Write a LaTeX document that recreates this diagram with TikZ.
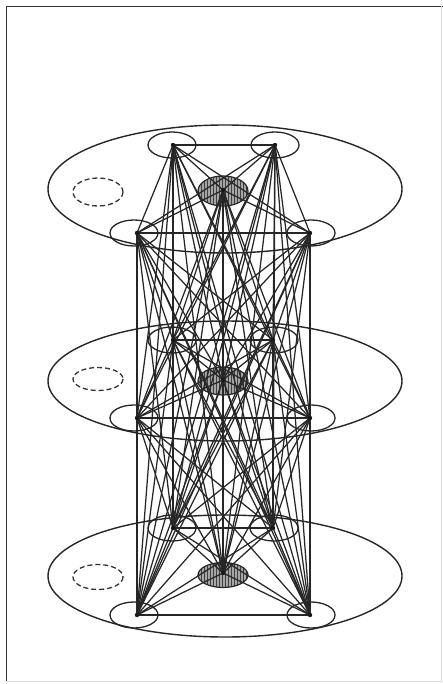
\documentclass[tikz,border=0pt]{standalone}
\usetikzlibrary{patterns}
\begin{document}
\begin{tikzpicture}[x=1pt,y=-1pt,
  mesh/.style={draw=black!85,line width=1.25pt},
  outer/.style={draw=black!85,line width=1.4pt},
  small/.style={draw=black!85,line width=1.3pt},
  dashring/.style={draw=black!80,line width=1.3pt,dash pattern=on 5pt off 3pt},
  hatchfill/.style={fill=black!35},
  hatch/.style={draw=black!85,line width=1.2pt,pattern=vertical lines,pattern color=black!75}]
\useasboundingbox (0,0) rectangle (443,684);
% frame
\draw[black!80,line width=1.6pt] (6.5,681) -- (6.5,6.5) -- (443,6.5);
\draw[black!15,line width=0.8pt] (441,6.5) -- (441,681) -- (6.5,681);
% layer data: big ellipse, dashed ring, hatched centre
\foreach \cy/\ry/\dy/\dry/\hy/\hry in {189/64/192/14/191/15, 381/60/379/11.5/381/14, 576/61/577/12.5/575/12.5}{
  \draw[outer] (225,\cy) ellipse [x radius=177, y radius=\ry];
  \draw[dashring] (98,\dy) ellipse [x radius=25, y radius=\dry];
  \fill[hatchfill] (223,\hy) ellipse [x radius=25, y radius=\hry];
  \draw[hatch] (223,\hy) ellipse [x radius=25, y radius=\hry];
}
% vertex coordinates
\coordinate (n1) at (173,145); \coordinate (n2) at (275,145);
\coordinate (n3) at (137,233); \coordinate (n4) at (310,233);
\coordinate (n5) at (223,190);
\coordinate (n6) at (173,340); \coordinate (n7) at (273,340);
\coordinate (n8) at (137,418); \coordinate (n9) at (310,418);
\coordinate (n10) at (223,380);
\coordinate (n11) at (173,528); \coordinate (n12) at (273,528);
\coordinate (n13) at (137,615); \coordinate (n14) at (310,615);
\coordinate (n15) at (223,573);
% small ellipses around the four corners of each layer
\foreach \v/\dx in {1/-1,2/0,3/-3,4/1,6/-1,7/1,8/-3,9/1,11/-1,12/1,13/-3,14/1}{
  \draw[small] ([xshift=\dx pt]n\v) ellipse [x radius=24, y radius=13];
}
% complete mesh
\foreach \i in {1,...,15}{
  \foreach \j in {1,...,15}{
    \ifnum\i<\j \draw[mesh] (n\i) -- (n\j);\fi
  }
}
\foreach \v in {1,2,3,4,5,6,7,8,9,10,11,12,13,14,15}{
  \fill[black!90] (n\v) circle (2.2pt);
}
\end{tikzpicture}
\end{document}
